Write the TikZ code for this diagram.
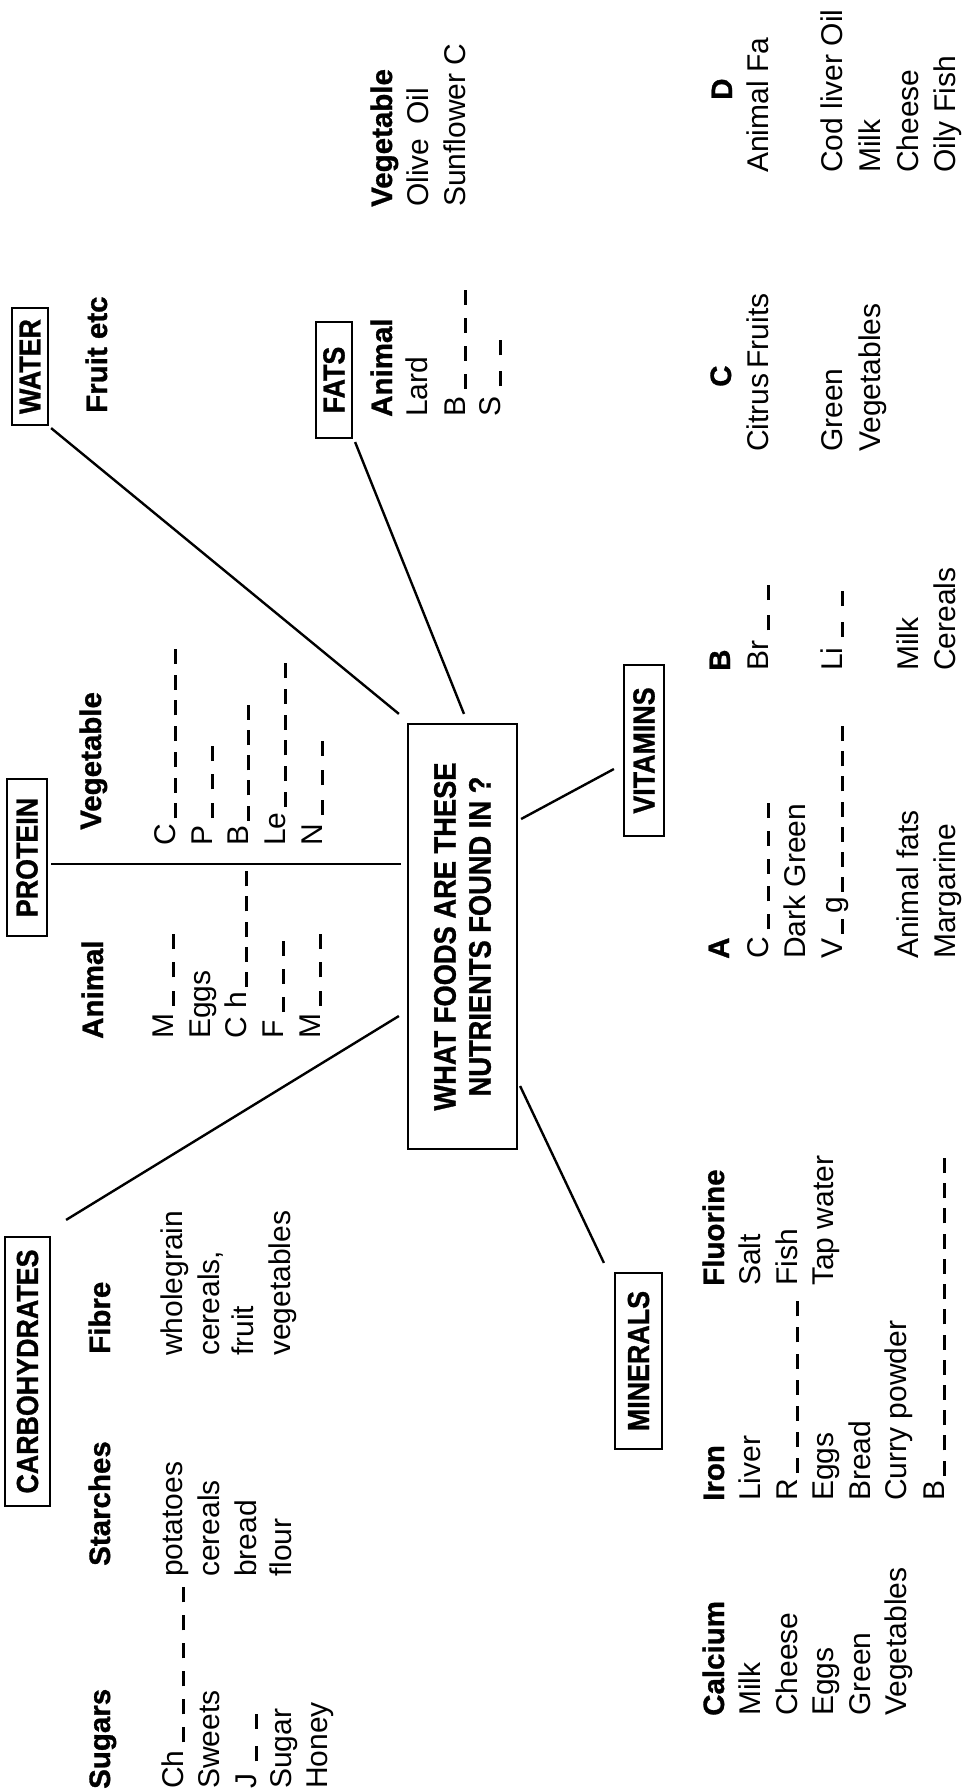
\documentclass[tikz,border=0pt]{standalone}
\usepackage{fontspec}
\setmainfont{Liberation Sans}
\newfontface\condb[FakeStretch=0.88,FakeBold=1]{Liberation Sans Bold}
\newfontface\hvb[FakeBold=1]{Liberation Sans Bold}
\newcommand\blank[1]{\hbox to #1pt{\xleaders\hbox to 25pt{\hss\rule[-1.5pt]{15pt}{2.6pt}\hss}\hfill}}
\newcommand\rg{\fontsize{30}{36}\selectfont}
\newcommand\bd{\hvb\fontsize{29.5}{35}\selectfont}
\begin{document}
\begin{tikzpicture}[x=1pt,y=-1pt,
  txt/.style={rotate=90,anchor=base west,inner sep=0pt,font=\rg},
  hd/.style={rotate=90,anchor=base west,inner sep=0pt,font=\bd},
  bx/.style={draw,line width=2.2pt,rotate=90,inner sep=0pt,font=\condb\fontsize{30.5}{30.5}\selectfont},
  conn/.style={line width=2.4pt}]
\fill[white] (0,0) rectangle (966,1791);
\useasboundingbox (0,0) rectangle (966,1791);

% boxes
\node[bx,minimum width=425pt,minimum height=109pt,align=center,font=\condb\fontsize{31}{35}\selectfont] (cq) at (462.5,936.5) {WHAT FOODS ARE THESE\\NUTRIENTS FOUND IN ?};
\node[bx,minimum width=117pt,minimum height=36pt] (water) at (30,366.5) {WATER};
\node[bx,minimum width=116pt,minimum height=36pt] (fats) at (334,380) {FATS};
\node[bx,minimum width=157pt,minimum height=40pt] (protein) at (27,857.5) {PROTEIN};
\node[bx,minimum width=269pt,minimum height=45pt] (carbo) at (27.5,1371.5) {CARBOHYDRATES};
\node[bx,minimum width=171pt,minimum height=40pt] (vit) at (644,750.5) {VITAMINS};
\node[bx,minimum width=176pt,minimum height=47pt] (min) at (638.5,1361) {MINERALS};

% connectors
\draw[conn] ([shift={(2,2)}]water.south west) -- ([shift={(-8,-9)}]cq.north east);
\draw[conn] ([shift={(2,3)}]fats.south west) -- ([shift={(1.5,-9)}]cq.east);
\draw[conn] ([shift={(3,6.5)}]protein.south) -- ([shift={(-6,-72.5)}]cq.north);
\draw[conn] ([shift={(15,-16)}]carbo.south east) -- ([shift={(-8,79.5)}]cq.north);
\draw[conn] ([shift={(3,-117.5)}]cq.south) -- ([shift={(-9,18.5)}]vit.north);
\draw[conn] ([shift={(2,149.5)}]cq.south) -- ([shift={(-10,-9)}]min.north east);

% WATER
\node[hd] (fruit) at (107,413) {Fruit etc};

% FATS
\node[hd] (fa) at (392,417) {Animal};
\foreach \bx/\t [count=\i] in {427/Lard, 465/{B\blank{115}}, 500/{S\blank{67}}}
  \node[txt] (fa\i) at (\bx,417) {\t};
\node[hd] (fv) at (392,207) {Vegetable};
\foreach \bx/\t [count=\i] in {428/{Olive\hspace{14pt}Oil}, 465/{Sunflower C}}
  \node[txt] (fv\i) at (\bx,207) {\t};

% PROTEIN
\node[hd] (pa) at (103,1039) {Animal};
\foreach \bx/\t [count=\i] in {173/{M\blank{88}}, 210/Eggs, 246/{C h\blank{126}}, 283/{F\blank{88}}, 320/{M\blank{88}}}
  \node[txt] (pa\i) at (\bx,1039) {\t};
\node[hd] (pv) at (101,830) {Vegetable};
\foreach \bx/\t [count=\i] in {175/{C\blank{181}}, 212/{P\blank{88}}, 248/{B\blank{126}}, 285/{Le\blank{155}}, 322/{N\blank{93}}}
  \node[txt] (pv\i) at (\bx,846) {\t};

% CARBOHYDRATES
\node[hd] (su) at (110,1789) {Sugars};
\foreach \bx/\t [count=\i] in {183/{Ch\blank{171}}, 219/Sweets, 256/{J\blank{72}}, 291/Sugar, 327/Honey}
  \node[txt] (su\i) at (\bx,1789) {\t};
\node[hd] (st) at (110,1566) {Starches};
\foreach \bx/\t [count=\i] in {182/potatoes, 219/cereals, 256/bread, 291/flour}
  \node[txt] (st\i) at (\bx,1577) {\t};
\node[hd] (fi) at (110,1354) {Fibre};
\foreach \bx/\t [count=\i] in {182/wholegrain, 219/{cereals,}, 253/fruit, 290/vegetables}
  \node[txt] (fi\i) at (\bx,1356) {\t};

% MINERALS
\node[hd] (ca) at (724,1716) {Calcium};
\foreach \bx/\t [count=\i] in {760/Milk, 797/Cheese, 833/Eggs, 870/Green, 906/Vegetables}
  \node[txt] (ca\i) at (\bx,1716) {\t};
\node[hd] (ir) at (724,1501) {Iron};
\foreach \bx/\t [count=\i] in {760/Liver, 797/{R\blank{184}}, 833/Eggs, 870/Bread, 906/{Curry powder}, 944/{B\blank{328}}}
  \node[txt] (ir\i) at (\bx,1501) {\t};
\node[hd] (fl) at (724,1286) {Fluorine};
\foreach \bx/\t [count=\i] in {760/Salt, 797/Fish, 833/{Tap water}}
  \node[txt] (fl\i) at (\bx,1286) {\t};

% VITAMINS
\node[hd] (va) at (729,959) {A};
\foreach \bx/\t [count=\i] in {768/{C\blank{142}}, 805/{Dark Green}, 842/{V\blank{25}g\blank{176}}, 918/{Animal fats}, 955/Margarine}
  \node[txt] (va\i) at (\bx,959) {\t};
\node[hd] (vb) at (730,671) {B};
\foreach \bx/\t [count=\i] in {768/{Br\blank{66}}, 842/{Li\blank{67}}, 918/Milk, 955/Cereals}
  \node[txt] (vb\i) at (\bx,671) {\t};
\node[hd] (vc) at (731,387) {C};
\foreach \bx/\t [count=\i] in {768/{Citrus\kern5pt Fruits}, 842/Green, 880/Vegetables}
  \node[txt] (vc\i) at (\bx,452) {\t};
\node[hd] (vd) at (732,100) {D};
\foreach \bx/\t [count=\i] in {768/{Animal Fa}, 842/{Cod liver Oil}, 880/Milk, 918/Cheese, 955/{Oily Fish}}
  \node[txt] (vd\i) at (\bx,173) {\t};
\end{tikzpicture}
\end{document}
